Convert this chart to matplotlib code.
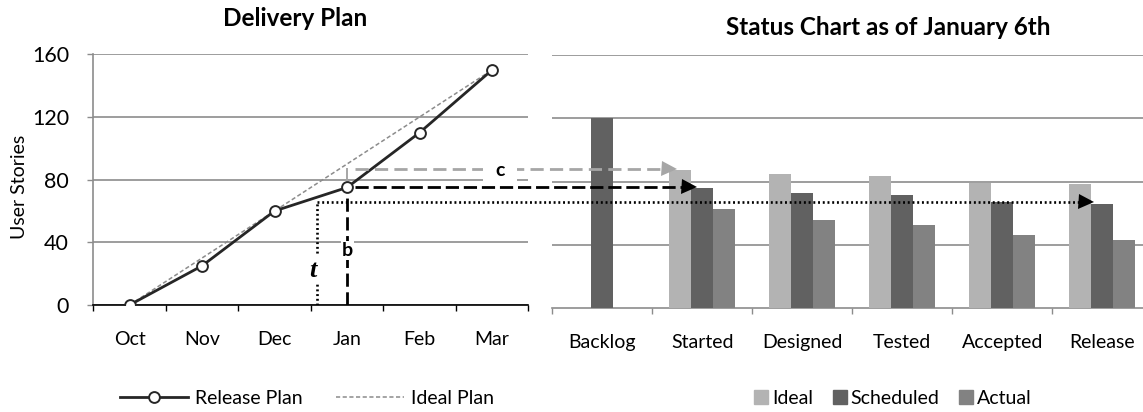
import numpy as np
import matplotlib
matplotlib.use("Agg")
import matplotlib.pyplot as plt
from matplotlib.lines import Line2D
from matplotlib.patches import Patch, Rectangle

# ---- data ----
months = ["Oct", "Nov", "Dec", "Jan", "Feb", "Mar"]
release_plan = [0, 25, 60, 75, 110, 150]
ideal_plan = [0, 30, 60, 90, 120, 150]

stages = ["Backlog", "Started", "Designed", "Tested", "Accepted", "Release"]
ideal = [np.nan, 87, 84.6, 83.3, 79.2, 78.2]
scheduled = [120, 76, 73, 71.4, 66.8, 66]
actual = [np.nan, 62.5, 55.6, 52.4, 46, 42.7]

y_ticks = [0, 40, 80, 120, 160]

# ---- style ----
plt.rcParams["font.family"] = ["Lato", "DejaVu Sans"]
plt.rcParams["lines.scale_dashes"] = False
FS = 14
FS_TITLE = 17.5
GRID = "#8c8c8c"
DARK = "#262626"
C_IDEAL, C_SCHED, C_ACT = "#b3b3b3", "#616161", "#828282"
W, H = 1143, 412

fig = plt.figure(figsize=(W / 100, H / 100), dpi=100)


def px_box(x0, x1, ytop, ybot):
    return [x0 / W, 1 - ybot / H, (x1 - x0) / W, (ybot - ytop) / H]


ax1 = fig.add_axes(px_box(93.3, 528.3, 54.3, 305.0))
ax2 = fig.add_axes(px_box(552.3, 1152.3, 55.3, 307.7))

# ---- left: delivery plan ----
x1 = np.arange(len(months))
ax1.set_xlim(-0.5, len(months) - 0.5)
ax1.set_ylim(0, 160)
ax1.set_yticks(y_ticks)
ax1.yaxis.grid(True, color=GRID, lw=1.2)
ax1.set_axisbelow(True)
ax1.plot(x1, ideal_plan, color="#8c8c8c", lw=1.1, dashes=(3.0, 1.8), zorder=2)
ax1.plot(x1, release_plan, color=DARK, lw=2.0, marker="o", ms=7.8,
         mfc="white", mec=DARK, mew=1.4, zorder=4)

ax1.set_xticks(x1)
ax1.set_xticklabels(months, fontsize=FS)
ax1.set_xticks(np.arange(-0.5, len(months)), minor=True)
ax1.tick_params(axis="x", which="major", length=0, pad=19)
ax1.tick_params(axis="x", which="minor", length=4.5, width=1.0, color="black")
ax1.tick_params(axis="y", length=4.5, width=1.0, color=GRID, pad=13, labelsize=15.5)
for s in ["top", "right"]:
    ax1.spines[s].set_visible(False)
ax1.spines["left"].set_color(GRID)
ax1.spines["left"].set_linewidth(1.2)
ax1.spines["bottom"].set_color("black")
ax1.spines["bottom"].set_linewidth(1.2)

# ---- right: status chart ----
x2 = np.arange(len(stages))
bw = 0.22
ax2.set_xlim(-0.5, len(stages) - 0.5)
ax2.set_ylim(0, 160)
ax2.set_yticks(y_ticks[1:])
ax2.yaxis.grid(True, color=GRID, lw=1.2)
ax2.set_axisbelow(True)
ideal_a = np.array(ideal, dtype=float)
act_a = np.array(actual, dtype=float)
m_i = ~np.isnan(ideal_a)
m_a = ~np.isnan(act_a)
ax2.bar(x2[m_i] - bw, ideal_a[m_i], bw, color=C_IDEAL, zorder=3)
ax2.bar(x2, scheduled, bw, color=C_SCHED, zorder=3)
ax2.bar(x2[m_a] + bw, act_a[m_a], bw, color=C_ACT, zorder=3)
ax2.set_xticks(x2)
ax2.set_xticklabels(stages, fontsize=FS)
ax2.set_xticks(np.arange(-0.5, len(stages)), minor=True)
ax2.tick_params(axis="x", which="major", length=0, pad=19)
ax2.tick_params(axis="x", which="minor", length=4.5, width=1.0, color=GRID)
ax2.tick_params(axis="y", length=0, labelleft=False)
for s in ["top", "right", "left"]:
    ax2.spines[s].set_visible(False)
ax2.spines["bottom"].set_color(GRID)
ax2.spines["bottom"].set_linewidth(1.2)

# ---- titles and axis label ----
fig.text(295 / W, 1 - 18.5 / H, "Delivery Plan", ha="center", va="center",
         fontsize=FS_TITLE, fontweight="bold")
fig.text(888 / W, 1 - 27.5 / H, "Status Chart as of January 6th", ha="center",
         va="center", fontsize=FS_TITLE, fontweight="bold")
fig.text(19.6 / W, 1 - 187 / H, "User Stories", rotation=90, ha="center",
         va="center", fontsize=FS)

# ---- guide lines linking the two charts ----
inv = fig.transFigure.inverted()


def to_fig(ax, x, y):
    return inv.transform(ax.transData.transform((x, y)))


def link(y_level, x_start, x_tip, color, dashes, lw):
    sx, sy = to_fig(ax1, x_start, y_level)
    tx, _ = to_fig(ax2, x_tip, 0)
    head = 7.5 / W
    fig.add_artist(Line2D([sx, tx - head], [sy, sy], transform=fig.transFigure,
                          color=color, lw=lw, dashes=dashes, zorder=2))
    fig.add_artist(Line2D([tx - head], [sy], transform=fig.transFigure,
                          marker=">", ms=10.8, color=color, mew=0, zorder=3))


jan = months.index("Jan")
level_c = ideal[1]
level_b = release_plan[jan]
level_t = scheduled[-1]
t_time = 2.58

# c : ideal level
ax1.plot([jan, jan], [80, level_c], color="#a6a6a6", lw=1.4, zorder=2)
link(level_c, jan + 0.11, 0.745, "#a6a6a6", (9.5, 4.5), 2.0)
# b : release plan level
ax1.plot([jan, jan], [0, level_b], color="black", lw=2.0, dashes=(9.5, 4.0), zorder=3)
link(level_b, jan + 0.11, 0.944, "black", (9.5, 3.5), 2.0)
# t : actual level
ax1.plot([t_time, t_time], [0, level_t], color="black", lw=1.9, dashes=(1.4, 2.0), zorder=3)
link(level_t, t_time, 4.91, "black", (1.4, 2.0), 1.9)

# labels
cx, cy = to_fig(ax1, 5.11, level_c)
fig.add_artist(Rectangle((483 / W, 1 - 181 / H), 34 / W, 21 / H,
                         transform=fig.transFigure, facecolor="white",
                         edgecolor="none", zorder=3))
fig.text(cx, 1 - 170.5 / H, "c", ha="center", va="center", fontsize=FS,
         fontweight="bold", zorder=4)
ax1.text(jan, 34.5, "b", ha="center", va="center", fontsize=FS, fontweight="bold",
         zorder=6, bbox=dict(boxstyle="square,pad=0.05", fc="white", ec="none"))
ax1.text(2.53, 22.3, "t", ha="center", va="center", fontsize=FS + 5,
         fontweight="bold", fontstyle="italic", family=["Liberation Serif", "DejaVu Serif"],
         zorder=6, bbox=dict(boxstyle="square,pad=0.1", fc="white", ec="none"))

# ---- legends ----
h_left = [
    Line2D([], [], color=DARK, lw=2.0, marker="o", ms=7.8, mfc="white", mec=DARK, mew=1.4),
    Line2D([], [], color="#8c8c8c", lw=1.1, dashes=(3.0, 1.8)),
]
fig.legend(h_left, ["Release Plan", "Ideal Plan"], loc="center",
           bbox_to_anchor=(306.8 / W, 1 - 398 / H), ncol=2, frameon=False,
           fontsize=FS, handlelength=3.5, handletextpad=0.37, columnspacing=1.7,
           numpoints=1, borderpad=0)
h_right = [Patch(color=C_IDEAL), Patch(color=C_SCHED), Patch(color=C_ACT)]
fig.legend(h_right, ["Ideal", "Scheduled", "Actual"], loc="center",
           bbox_to_anchor=(893 / W, 1 - 398 / H), ncol=3, frameon=False,
           fontsize=FS, handlelength=0.72, handleheight=0.72, handletextpad=0.2,
           columnspacing=1.0, borderpad=0)

fig.savefig("out.png", dpi=100)
